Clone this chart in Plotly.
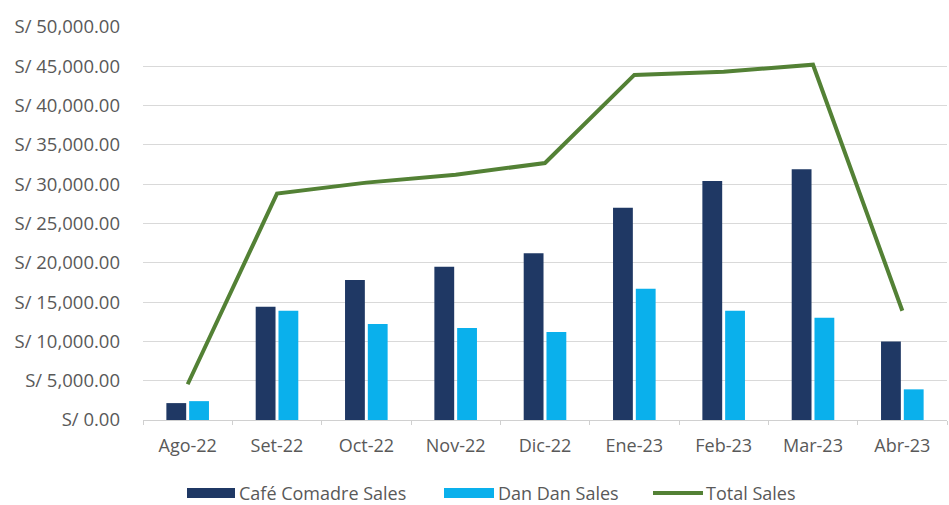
import plotly.graph_objects as go

months = ["Ago-22", "Set-22", "Oct-22", "Nov-22", "Dic-22", "Ene-23", "Feb-23", "Mar-23", "Abr-23"]
cafe_comadre = [2150, 14400, 17800, 19500, 21200, 27000, 30400, 31900, 10000]
dan_dan = [2400, 13900, 12200, 11700, 11200, 16700, 13900, 13000, 3900]
total_sales = [4550, 28800, 30200, 31200, 32700, 43900, 44300, 45200, 13900]

NAVY = "#1F3864"
SKY = "#0AB0EC"
GREEN = "#538135"
TEXT = "#595959"
FONT = "'Open Sans', Lato, sans-serif"

W, H = 949, 505
L, R, T, B = 143, 2, 27, 85
PW, PH = W - L - R, H - T - B

fig = go.Figure()
fig.add_trace(go.Bar(x=months, y=cafe_comadre, name="Café Comadre Sales",
                     marker=dict(color=NAVY, line=dict(width=0))))
fig.add_trace(go.Bar(x=months, y=dan_dan, name="Dan Dan Sales",
                     marker=dict(color=SKY, line=dict(width=0))))
fig.add_trace(go.Scatter(x=months, y=total_sales, name="Total Sales", mode="lines",
                         line=dict(color=GREEN, width=4)))


def px_x(px):
    return (px - L) / PW


def px_y(py):
    return (H - B - py) / PH


# Legend drawn as wide swatches below the axis, Excel style
legend_y = 493
shapes = [
    dict(type="rect", xref="paper", yref="paper", x0=px_x(187), x1=px_x(235),
         y0=px_y(legend_y + 5), y1=px_y(legend_y - 5), fillcolor=NAVY, line=dict(width=0)),
    dict(type="rect", xref="paper", yref="paper", x0=px_x(444), x1=px_x(494),
         y0=px_y(legend_y + 5), y1=px_y(legend_y - 5), fillcolor=SKY, line=dict(width=0)),
    dict(type="line", xref="paper", yref="paper", x0=px_x(653), x1=px_x(703),
         y0=px_y(legend_y), y1=px_y(legend_y), line=dict(color=GREEN, width=4)),
]
legend_labels = [(237, "Café Comadre Sales"), (496, "Dan Dan Sales"), (704, "Total Sales")]
annotations = [
    dict(xref="paper", yref="paper", x=px_x(xp), y=px_y(legend_y), text=txt,
         showarrow=False, xanchor="left", yanchor="middle",
         font=dict(family=FONT, size=18, color=TEXT))
    for xp, txt in legend_labels
]

fig.update_layout(
    width=W, height=H,
    margin=dict(l=L, r=R, t=T, b=B),
    paper_bgcolor="white", plot_bgcolor="white",
    barmode="group", bargap=0.49, bargroupgap=0.13,
    font=dict(family=FONT, size=18, color=TEXT),
    showlegend=False,
    shapes=shapes,
    annotations=annotations,
)
fig.update_yaxes(range=[0, 50000], dtick=5000, tickprefix="S/ ", tickformat=",.2f",
                 showgrid=True, gridcolor="#D9D9D9", gridwidth=1, zeroline=False,
                 ticks="", showline=False, ticklabelstandoff=22,
                 tickfont=dict(family=FONT, size=18.5, color=TEXT))
fig.update_xaxes(showline=True, linecolor="#D0D0D0", linewidth=1,
                 ticks="outside", tickson="boundaries", ticklen=4, tickcolor="#D0D0D0",
                 ticklabelstandoff=9,
                 tickfont=dict(family=FONT, size=18, color=TEXT))

fig.write_html("out.html")
